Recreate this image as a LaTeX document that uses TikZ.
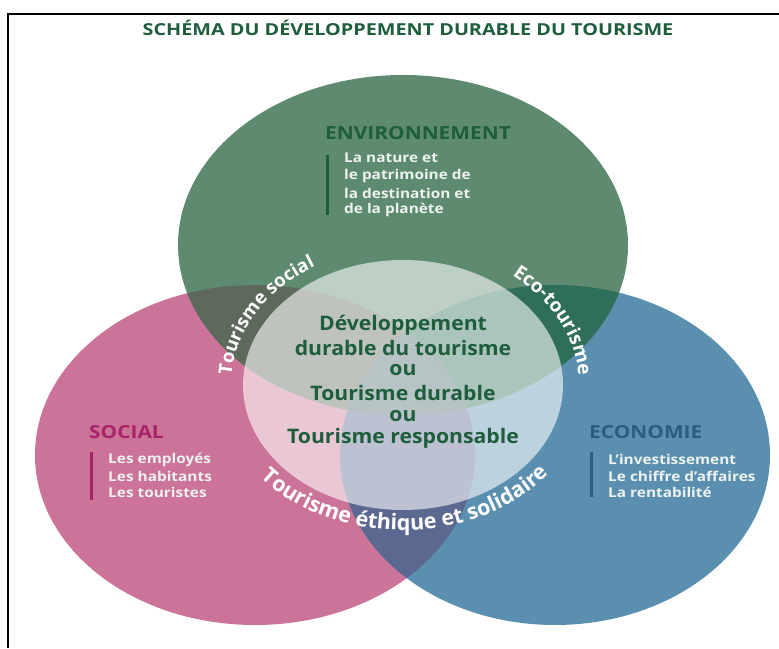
\documentclass[tikz,border=0pt]{standalone}
\usepackage{fontspec}
\setmainfont{Open Sans}
\usetikzlibrary{decorations.text}
\definecolor{envgreen}{HTML}{5E8B6F}
\definecolor{socpink}{HTML}{CB7398}
\definecolor{ecoblue}{HTML}{5B8FB0}
\definecolor{gpmix}{HTML}{5D6A5B}
\definecolor{gbmix}{HTML}{2F6E5A}
\definecolor{pbmix}{HTML}{5B6890}
\definecolor{gpbmix}{HTML}{4F6A6E}
\definecolor{envhead}{HTML}{1E5E3C}
\definecolor{sochead}{HTML}{A8226C}
\definecolor{ecohead}{HTML}{2C5C80}
\definecolor{itemwhite}{HTML}{EEF2F0}
\begin{document}
\begin{tikzpicture}
[x=1pt,y=1pt,
  heading/.style={anchor=west,inner sep=0pt,xscale=1.16,font=\bfseries\fontsize{18}{18}\selectfont},
  itemtext/.style={anchor=west,inner sep=0pt,xscale=1.14,text=itemwhite,font=\bfseries\fontsize{13.5}{13.5}\selectfont},
  coretext/.style={inner sep=0pt,xscale=1.06,text=envhead,font=\bfseries\fontsize{20}{20}\selectfont},
  sidebar/.style={line width=3pt}]
\useasboundingbox (0,0) rectangle (779,648);
\fill[white] (0,0) rectangle (779,648);
\draw[line width=2pt] (8,0) -- (8,633.5) -- (779,633.5);
%% title
\node (title) at (408,620) [text=envhead,xscale=1.2,font=\bfseries\fontsize{16.5}{16.5}\selectfont] {SCHÉMA DU DÉVELOPPEMENT DURABLE DU TOURISME};
%% circles
\fill[socpink] (255,193) ellipse [x radius=220,y radius=170];
\fill[ecoblue] (555,193) ellipse [x radius=215,y radius=170];
\fill[envgreen] (403,403) ellipse [x radius=225,y radius=170];
\begin{scope}
  \clip (403,403) ellipse [x radius=225,y radius=170];
  \fill[gpmix] (255,193) ellipse [x radius=220,y radius=170];
  \fill[gbmix] (555,193) ellipse [x radius=215,y radius=170];
\end{scope}
\begin{scope}
  \clip (255,193) ellipse [x radius=220,y radius=170];
  \fill[pbmix] (555,193) ellipse [x radius=215,y radius=170];
  \clip (403,403) ellipse [x radius=225,y radius=170];
  \fill[gpbmix] (555,193) ellipse [x radius=215,y radius=170];
\end{scope}
\coordinate (core) at (403,263);
\fill[white,opacity=.6] (core) ellipse [x radius=160,y radius=125];
%% headings and bars
\node (envtitle) at (325,515) [heading,text=envhead] {ENVIRONNEMENT};
\node (soctitle) at (89,216) [heading,text=sochead] {SOCIAL};
\node (ecotitle) at (589,216) [heading,text=ecohead] {ECONOMIE};
\draw[sidebar,envhead] (327,493) -- (327,433);
\draw[sidebar,sochead] (91,196) -- (91,148);
\draw[sidebar,ecohead] (591,196) -- (591,151);
%% lines of text
\foreach \nodename/\x/\y/\words in {
  env1/344/490/La nature et, env2/344/472/le patrimoine de,
  env3/344/455/la destination et, env4/344/438/de la planète,
  soc1/108/188/Les employés, soc2/108/172/Les habitants, soc3/108/156/Les touristes,
  eco1/608/189/L’investissement, eco2/608/172/Le chiffre d’affaires, eco3/608/156/La rentabilité}
{
  \node (\nodename) at (\x,\y) [itemtext] {\words};
}
\foreach \nodename/\y/\words in {
  core1/323/Développement, core2/300/durable du tourisme, core3/278/ou,
  core4/255/Tourisme durable, core5/232/ou, core6/210/Tourisme responsable}
{
  \node (\nodename) at (403,\y) [coretext] {\words};
}
%% curved labels
\path[decorate,decoration={text along path,text align=center,
  text={|\bfseries\fontsize{18.5}{18.5}\selectfont\color{white}|Tourisme social}}]
  ([shift={(184:172 and 138)}]core) arc[start angle=184,end angle=114,x radius=172,y radius=138];
\path[decorate,decoration={text along path,text align=center,
  text={|\bfseries\fontsize{19}{19}\selectfont\color{white}|Eco-tourisme}}]
  ([shift={(60:176 and 140)}]core) arc[start angle=60,end angle=-6,x radius=176,y radius=140];
\path[decorate,decoration={text along path,text align=center,
  text={|\bfseries\fontsize{21.5}{21.5}\selectfont\color{white}|Tourisme éthique et solidaire}}]
  ([shift={(198:185 and 145)}]core) arc[start angle=198,end angle=344,x radius=185,y radius=145];
\end{tikzpicture}
\end{document}
